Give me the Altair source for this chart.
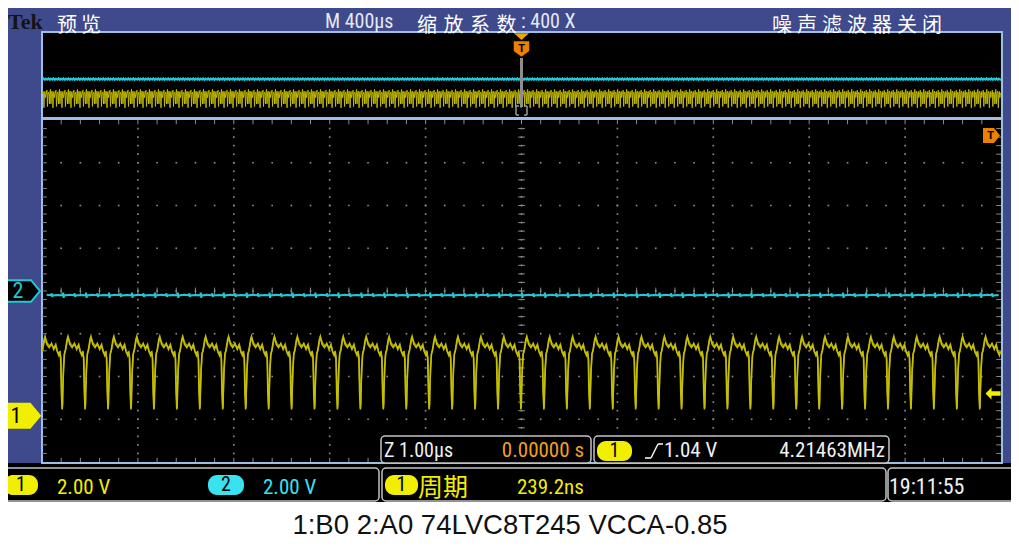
import altair as alt
import numpy as np
import pandas as pd

# ---------------- values ----------------
period_ns = 239.2                 # 周期 readout
ch1_pos_div = -2.92               # ground marker "1" (divisions)
ch2_pos_div = 0.0                 # ground marker "2"
ch1_volts_per_div = 2.00
ch2_volts_per_div = 2.00
trig_level_v = 1.04
zoom_span_us = [-5.0, 5.0]        # Z 1.00 µs/div, 10 div
main_span_us = [-2000.0, 2000.0]  # M 400 µs/div, 10 div

# one period of channel 1 (phase 0 = rising edge through the trigger level)
ch1_phase = [0.000, 0.030, 0.070, 0.110, 0.190, 0.230, 0.310, 0.410, 0.510,
             0.610, 0.690, 0.760, 0.830, 0.870, 0.910, 0.945, 0.975, 0.990]
ch1_volts = [1.04, 2.18, 2.88, 3.02, 3.58, 3.72, 3.34, 3.20, 3.39,
             3.11, 3.30, 3.02, 2.83, 3.02, 2.74, 1.01, 0.30, 0.54]
# second overlapping sweep (persistence)
ch1b_phase = [0.000, 0.035, 0.080, 0.130, 0.200, 0.250, 0.330, 0.430, 0.530,
              0.620, 0.700, 0.780, 0.840, 0.885, 0.925, 0.950, 0.980, 0.995]
ch1b_volts = [1.04, 2.05, 2.95, 3.10, 3.50, 3.62, 3.40, 3.28, 3.30,
              3.18, 3.36, 2.95, 2.90, 2.98, 2.60, 1.30, 0.36, 0.62]
# channel 2: nearly flat with small spikes
ch2_phase = [0.00, 0.02, 0.04, 0.06, 0.30, 0.50, 0.52, 0.54, 0.56, 0.80]
ch2_volts = [-0.20, -0.08, -0.32, -0.21, -0.18, -0.20, -0.11, -0.28, -0.21, -0.19]

# header / status labels
top_cjk = [("预览", 57, 24.0), ("缩放系数", 417, 26.5), ("噪声滤波器关闭", 772, 25.0)]

# ---------------- colours / fonts ----------------
BLUE = "#3E4A8C"
BORDER = "#9CC0E4"
GRID = "#8A8A8A"
CH1 = "#C6BF00"
CH1_BRIGHT = "#F2EE00"
CH2 = "#22C8D6"
CH2_BRIGHT = "#38E2EE"
ORANGE = "#EE7F00"
ORANGE_TXT = "#F0A020"
WHITE_TXT = "#F0F0F0"
BOX_STROKE = "#C4C4C4"
NARROW = "Liberation Sans Narrow, Roboto Condensed, Arial Narrow, Liberation Sans, sans-serif"
CJK = "Noto Sans CJK SC, sans-serif"
SERIF = "Liberation Serif, DejaVu Serif, serif"
SANS = "Liberation Sans, Arial, sans-serif"

W, H = 1003, 533
OFF = 8


def P(v):
    return v - OFF


period_us = period_ns / 1000.0

main_x = alt.Scale(domain=zoom_span_us, range=[P(42), P(1001)], nice=False, zero=False)
main_y = alt.Scale(domain=[-4, 4], range=[P(462), P(120)], nice=False, zero=False)
ov_x = alt.Scale(domain=main_span_us, range=[P(42), P(1001)], nice=False, zero=False)
ov_y = alt.Scale(domain=[-4, 4], range=[P(121), P(35)], nice=False, zero=False)


def tile(phases, volts, span):
    t0, t1 = span
    rows = []
    for k in range(int(np.floor(t0 / period_us)) - 1, int(np.ceil(t1 / period_us)) + 2):
        for p, v in zip(phases, volts):
            t = (k + p) * period_us
            if t0 <= t <= t1:
                rows.append((t, v))
    return pd.DataFrame(rows, columns=["t", "v"])


def decimate(phases, volts, span, stride):
    n_per = len(phases)
    t0, t1 = span
    n = int(np.floor(t0 / period_us)) * n_per
    rows = []
    while True:
        k, j = divmod(n, n_per)
        t = (k + phases[j]) * period_us
        if t > t1:
            break
        if t >= t0:
            rows.append((t, volts[j]))
        n += stride
    return pd.DataFrame(rows, columns=["t", "v"])


def to_div(df, pos, vdiv):
    df = df.copy()
    df["div"] = pos + df["v"] / vdiv
    return df


ch1_main = to_div(tile(ch1_phase, ch1_volts, zoom_span_us), ch1_pos_div, ch1_volts_per_div)
ch1b_main = to_div(tile(ch1b_phase, ch1b_volts, zoom_span_us), ch1_pos_div, ch1_volts_per_div)
ch2_main = to_div(tile(ch2_phase, ch2_volts, zoom_span_us), ch2_pos_div, ch2_volts_per_div)
ch1_ov = to_div(decimate(ch1_phase, ch1_volts, main_span_us, 157), ch1_pos_div, ch1_volts_per_div)
ch2_ov = to_div(decimate(ch2_phase, ch2_volts, main_span_us, 87), ch2_pos_div, ch2_volts_per_div)


def line_layer(df, xs, ys, color, width, opacity=1.0):
    return alt.Chart(df).mark_line(color=color, strokeWidth=width, opacity=opacity).encode(
        x=alt.X("t:Q", scale=xs, axis=None),
        y=alt.Y("div:Q", scale=ys, axis=None),
        order="t:Q",
    )


PX = dict(scale=None, axis=None)


def rect_layer(rows, corner=0, stroke=None, sw=0):
    df = pd.DataFrame(rows, columns=["x1", "y1", "x2", "y2", "fill"])
    for c in ["x1", "x2", "y1", "y2"]:
        df[c] = df[c] - OFF
    kw = dict(cornerRadius=corner) if corner else {}
    if stroke:
        kw.update(stroke=stroke, strokeWidth=sw)
    return alt.Chart(df).mark_rect(**kw).encode(
        x=alt.X("x1:Q", **PX), x2="x2:Q",
        y=alt.Y("y1:Q", **PX), y2="y2:Q",
        fill=alt.Fill("fill:N", scale=None),
    )


def text_layer(rows, font, align="left", weight="normal", baseline="alphabetic"):
    df = pd.DataFrame(rows, columns=["text", "x", "y", "size", "color"])
    df["x"] = df["x"] - OFF
    df["y"] = df["y"] - OFF
    return alt.Chart(df).mark_text(font=font, align=align, fontWeight=weight, baseline=baseline).encode(
        x=alt.X("x:Q", **PX), y=alt.Y("y:Q", **PX), text="text:N",
        color=alt.Color("color:N", scale=None),
        size=alt.Size("size:Q", scale=None),
    )


def chrome_rules(rows, color, width):
    df = pd.DataFrame(rows, columns=["x1", "y1", "x2", "y2"]) - OFF
    return alt.Chart(df).mark_rule(color=color, strokeWidth=width).encode(
        x=alt.X("x1:Q", **PX), x2="x2:Q", y=alt.Y("y1:Q", **PX), y2="y2:Q")


layers = []

# ---------------- frame ----------------
layers.append(rect_layer([
    (0, 5, 1019, 467, BLUE),
    (990, 4, 1017, 8, "#000000"),
    (0, 463, 1019, 502, "#000000"),
]))
layers.append(rect_layer([(42, 32, 1002, 118, "#000000"),
                          (42, 119, 1002, 463, "#000000")], stroke=BORDER, sw=2))

# ---------------- graticule ----------------
gpts = []
for xd in range(-4, 5):
    for j in range(-19, 20):
        gpts.append((xd, j * 0.2))
for yd in range(-3, 4):
    for j in range(-24, 25):
        gpts.append((j * 0.2, yd))
grid_df = pd.DataFrame(gpts, columns=["x", "y"])
layers.append(alt.Chart(grid_df).mark_square(size=2.8, color=GRID, opacity=1).encode(
    x=alt.X("x:Q", scale=main_x, axis=None), y=alt.Y("y:Q", scale=main_y, axis=None)))

ticks = []
for j in range(-19, 20):
    y = j * 0.2
    ticks.append((-5.0, -4.95, y, y))
    ticks.append((4.95, 5.0, y, y))
    ticks.append((-0.035, 0.035, y, y))
for j in range(-24, 25):
    x = j * 0.2
    ticks.append((x, x, 4.0, 3.9))
    ticks.append((x, x, -4.0, -3.9))
    ticks.append((x, x, -0.08, 0.08))
tick_df = pd.DataFrame(ticks, columns=["x", "x2", "y", "y2"])
layers.append(alt.Chart(tick_df).mark_rule(color=GRID, strokeWidth=1).encode(
    x=alt.X("x:Q", scale=main_x, axis=None), x2="x2:Q",
    y=alt.Y("y:Q", scale=main_y, axis=None), y2="y2:Q"))

# ---------------- overview traces ----------------
layers.append(line_layer(ch2_ov, ov_x, ov_y, CH2, 2))
layers.append(line_layer(ch1_ov, ov_x, ov_y, CH1, 1, 0.95))

# zoom window marker in overview
zoom_df = pd.DataFrame({"t": [0.0], "y1": [P(58)], "y2": [P(107)]})
layers.append(alt.Chart(zoom_df).mark_rule(color="#8E8E8E", strokeWidth=3).encode(
    x=alt.X("t:Q", scale=ov_x, axis=None), y=alt.Y("y1:Q", **PX), y2="y2:Q"))
layers.append(chrome_rules([
    (516, 106, 516, 115), (516, 106, 519, 106), (516, 115, 519, 115),
    (527, 106, 527, 115), (524, 106, 527, 106), (524, 115, 527, 115),
], "#9A9A9A", 1.5))

# ---------------- main traces ----------------
layers.append(line_layer(ch2_main, main_x, main_y, CH2, 2))
layers.append(line_layer(ch1b_main, main_x, main_y, CH1, 1.4, 0.8))
layers.append(line_layer(ch1_main, main_x, main_y, CH1, 1.6))

# ---------------- markers ----------------
PENT = "M-1,-0.6L0.5,-0.6L1,0L0.5,0.6L-1,0.6Z"
mk = pd.DataFrame({"x": [P(20), P(22)], "y": [ch1_pos_div, ch2_pos_div]})
layers.append(alt.Chart(mk.iloc[[0]]).mark_point(shape=PENT, size=1600, filled=True, fill=CH1_BRIGHT,
                                                 stroke=CH1_BRIGHT, opacity=1).encode(
    x=alt.X("x:Q", **PX), y=alt.Y("y:Q", scale=main_y, axis=None)))
layers.append(alt.Chart(mk.iloc[[1]]).mark_point(shape=PENT, size=1300, filled=True, fill="#000000",
                                                 stroke=CH2, strokeWidth=2, opacity=1).encode(
    x=alt.X("x:Q", **PX), y=alt.Y("y:Q", scale=main_y, axis=None)))
mk_txt = pd.DataFrame({"text": ["1", "2"], "x": [P(16), P(18)], "y": [ch1_pos_div, ch2_pos_div],
                       "color": ["#000000", CH2]})
layers.append(alt.Chart(mk_txt).mark_text(font=NARROW, fontSize=22, baseline="middle", align="center").encode(
    x=alt.X("x:Q", **PX), y=alt.Y("y:Q", scale=main_y, axis=None), text="text:N",
    color=alt.Color("color:N", scale=None)))

# trigger level arrow (right edge)
ARROW = "M-1,0L-0.2,-0.8L-0.2,-0.3L1,-0.3L1,0.3L-0.2,0.3L-0.2,0.8Z"
trig_df = pd.DataFrame({"x": [P(993)], "y": [ch1_pos_div + trig_level_v / ch1_volts_per_div]})
layers.append(alt.Chart(trig_df).mark_point(shape=ARROW, size=225, filled=True, fill=CH1_BRIGHT,
                                            opacity=1, strokeWidth=0).encode(
    x=alt.X("x:Q", **PX), y=alt.Y("y:Q", scale=main_y, axis=None)))

# trigger position markers
SHIELD = "M-1,-1L1,-1L1,0.25L0,1L-1,0.25Z"
TRI = "M-1,-0.45L1,-0.45L0,0.45Z"
tpos = pd.DataFrame({"t": [0.0], "y": [P(49)], "y2": [P(36.5)]})
layers.append(alt.Chart(tpos).mark_point(shape=TRI, size=225, filled=True, fill="#F4A200",
                                         opacity=1, strokeWidth=0).encode(
    x=alt.X("t:Q", scale=ov_x, axis=None), y=alt.Y("y2:Q", **PX)))
layers.append(alt.Chart(tpos).mark_point(shape=SHIELD, size=240, filled=True, fill=ORANGE,
                                         opacity=1, strokeWidth=0).encode(
    x=alt.X("t:Q", scale=ov_x, axis=None), y=alt.Y("y:Q", **PX)))
layers.append(alt.Chart(tpos).mark_text(text="T", font=SANS, fontSize=11, fontWeight="bold",
                                        color="#000000", baseline="middle").encode(
    x=alt.X("t:Q", scale=ov_x, axis=None), y=alt.Y("y:Q", **PX)))
RT = "M-1,-0.88L0.3,-0.88L1,0L0.3,0.88L-1,0.88Z"
rt = pd.DataFrame({"x": [P(991.5)], "y": [P(135.5)]})
layers.append(alt.Chart(rt).mark_point(shape=RT, size=289, filled=True, fill=ORANGE,
                                       opacity=1, strokeWidth=0).encode(
    x=alt.X("x:Q", **PX), y=alt.Y("y:Q", **PX)))
layers.append(alt.Chart(rt).mark_text(text="T", font=SANS, fontSize=11, fontWeight="bold",
                                      color="#000000", baseline="middle", dx=-1).encode(
    x=alt.X("x:Q", **PX), y=alt.Y("y:Q", **PX)))

# ---------------- status boxes ----------------
layers.append(rect_layer([
    (381, 436, 591, 463, "#000000"),
    (594, 436, 889, 463, "#000000"),
    (1, 468, 379, 501, "#000000"),
    (382, 468, 886, 501, "#000000"),
    (888, 468, 1018, 501, "#000000"),
], corner=4, stroke=BOX_STROKE, sw=1.5))
layers.append(rect_layer([
    (4, 475, 38, 495, CH1_BRIGHT),
    (208, 475, 244, 495, CH2_BRIGHT),
    (385, 475, 418, 495, CH1_BRIGHT),
    (597, 441, 632, 461, CH1_BRIGHT),
], corner=9))
# rising-edge symbol
layers.append(chrome_rules([(645, 458, 651, 458), (651, 458, 658, 444), (658, 444, 663, 444)],
                           WHITE_TXT, 1.6))

# ---------------- texts ----------------
layers.append(text_layer([("Tek", 8, 29, 22, "#141414")], SERIF, weight="bold"))
cjk_rows = []
for label, x0, step in top_cjk:
    for i, ch in enumerate(label):
        cjk_rows.append((ch, x0 + i * step, 31.5, 20, "#FFFFFF"))
cjk_rows.append(("周期", 418, 496, 25, CH1_BRIGHT))
layers.append(text_layer(cjk_rows, CJK))
layers.append(text_layer([
    ("M  400µs", 325, 28, 20, "#E6E8F0"),
    (": 400 X", 521, 28, 20, "#E6E8F0"),
    ("Z 1.00µs", 384, 457, 20, WHITE_TXT),
    ("1.04 V", 664, 457, 21, WHITE_TXT),
    ("2.00 V", 57, 494, 21, CH1_BRIGHT),
    ("2.00 V", 263, 494, 21, CH2_BRIGHT),
    ("239.2ns", 517, 494, 21, CH1_BRIGHT),
    ("19:11:55", 889, 494, 22, WHITE_TXT),
], NARROW))
layers.append(text_layer([
    ("0.00000 s", 584, 457, 21, ORANGE_TXT),
    ("4.21463MHz", 885, 457, 21, WHITE_TXT),
], NARROW, align="right"))
layers.append(text_layer([
    ("1", 21, 485, 20, "#000000"),
    ("2", 226, 485, 20, "#000000"),
    ("1", 401.5, 485, 20, "#000000"),
    ("1", 614.5, 451, 20, "#000000"),
], NARROW, align="center", baseline="middle"))
layers.append(text_layer([("1:B0 2:A0 74LVC8T245 VCCA-0.85", 510, 534, 27.5, "#111111")],
                         SANS, align="center"))

chart = alt.layer(*layers).properties(
    width=W, height=H, padding=0, background="white",
    autosize=alt.AutoSizeParams(type="none"),
).resolve_scale(
    x="independent", y="independent", color="independent", fill="independent", size="independent"
).configure_view(stroke=None)

chart.save("out.html", embed_options={"renderer": "svg", "actions": False})
